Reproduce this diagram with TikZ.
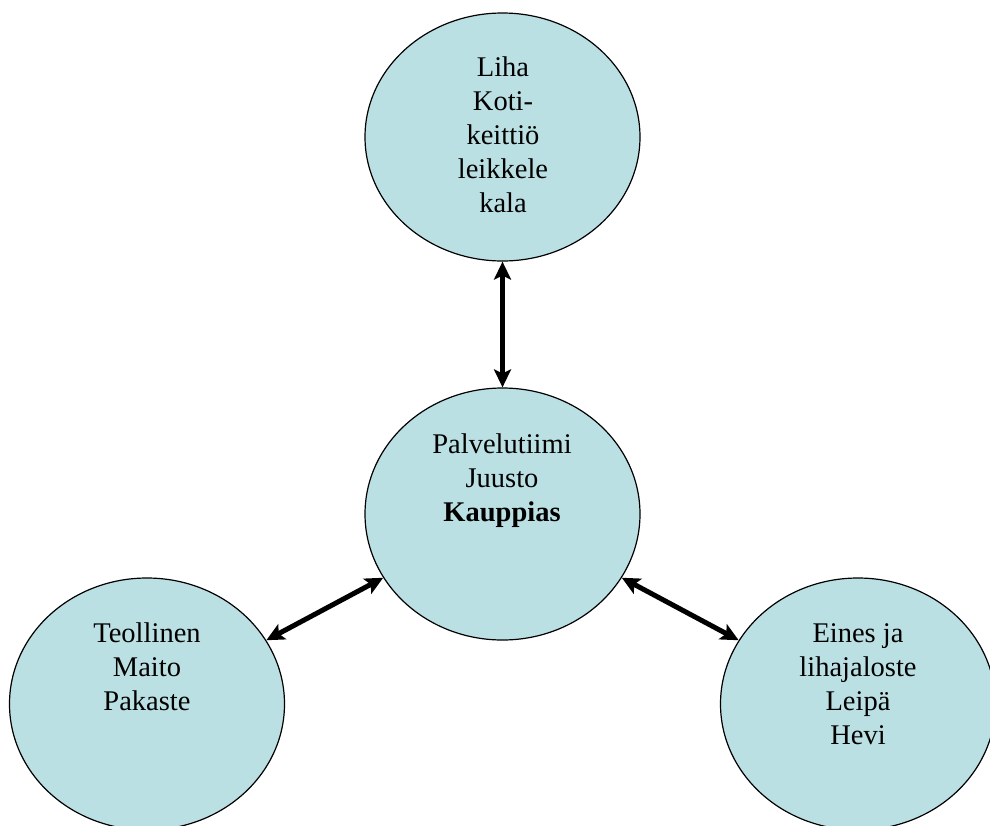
\documentclass[tikz,border=0pt]{standalone}
\usepackage{fontspec}
\setmainfont{Liberation Serif}
\usetikzlibrary{shapes.geometric,arrows.meta}
\definecolor{bubble}{RGB}{187,224,227}
\newcommand{\stk}[1]{\vtop{\halign{\hfil##\hfil\cr#1\crcr}}}
\tikzset{
  bubblenode/.style={ellipse, draw=black, line width=1.2pt, fill=bubble, inner sep=0pt, minimum width=275pt, minimum height=252pt},
  bubbletext/.style={anchor=base, inner sep=0pt, font=\fontsize{28.5}{34.2}\selectfont},
  link/.style={line width=5pt, {Stealth[length=18pt,width=17pt,inset=4pt]}-{Stealth[length=18pt,width=17pt,inset=4pt]}}
}
\begin{document}
\begin{tikzpicture}[x=1pt,y=-1pt]
\useasboundingbox (0,0) rectangle (990,825);
\clip (0,0) rectangle (990,825);
\node[bubblenode, minimum height=248pt] (top) at (502.5,137) {};
\node[bubblenode] (mid) at (502.5,514) {};
\node[bubblenode] (left) at (147,704) {};
\node[bubblenode] (right) at (858,704) {};
\node[bubbletext] (toptext) at (503,76) {\stk{Liha\cr Koti-\cr keittiö\cr leikkele\cr kala}};
\node[bubbletext] (midtext) at (502,453) {\stk{Palvelutiimi\cr Juusto\cr \textbf{Kauppias}}};
\node[bubbletext] (lefttext) at (147,642) {\stk{Teollinen\cr Maito\cr Pakaste}};
\node[bubbletext] (righttext) at (858,642) {\stk{Eines ja\cr lihajaloste\cr Leipä\cr Hevi}};
\draw[link] (top) -- (mid);
\draw[link] (mid) -- (left);
\draw[link] (mid) -- (right);
\end{tikzpicture}
\end{document}
